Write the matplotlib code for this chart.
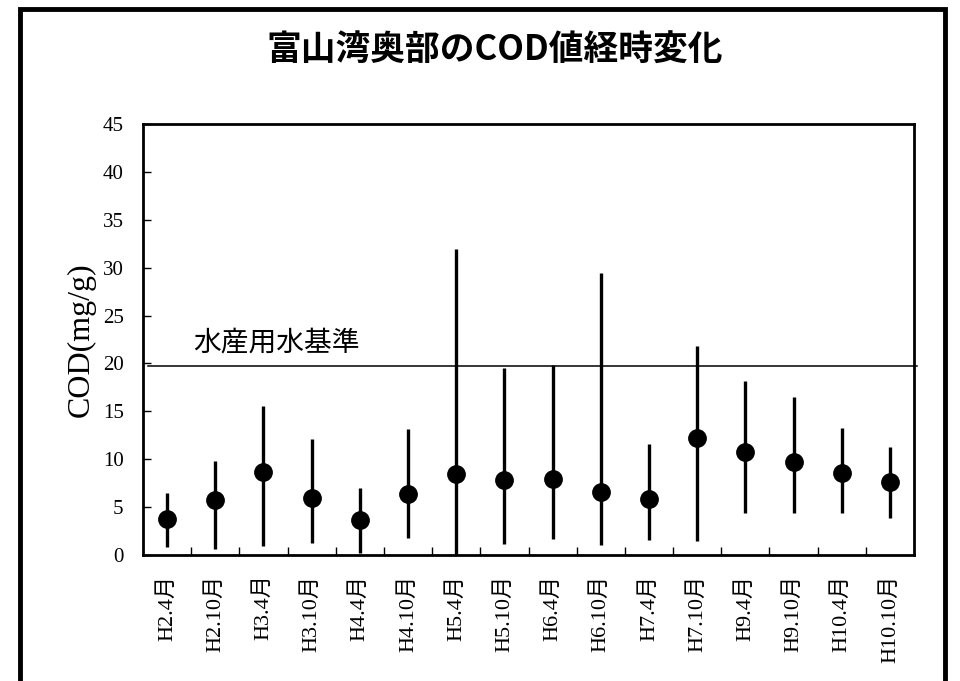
import matplotlib
matplotlib.use("Agg")
import matplotlib.pyplot as plt
from matplotlib.patches import Rectangle

# data
labels = ["H2.4月", "H2.10月", "H3.4月", "H3.10月", "H4.4月", "H4.10月", "H5.4月", "H5.10月",
          "H6.4月", "H6.10月", "H7.4月", "H7.10月", "H9.4月", "H9.10月", "H10.4月", "H10.10月"]
cod_mean = [3.8, 5.7, 8.7, 6.0, 3.7, 6.4, 8.5, 7.8, 7.9, 6.6, 5.8, 12.2, 10.8, 9.7, 8.6, 7.6]
cod_max = [6.5, 9.8, 15.6, 12.1, 7.0, 13.2, 31.9, 19.5, 19.8, 29.4, 11.6, 21.8, 18.2, 16.5, 13.3, 11.3]
cod_min = [0.8, 0.6, 0.9, 1.3, 0.2, 1.8, 0.0, 1.2, 1.7, 1.0, 1.6, 1.5, 4.4, 4.4, 4.4, 3.9]
standard = 19.7
standard_label = "水産用水基準"

serif = ["Liberation Serif", "Noto Sans CJK JP"]
gothic = ["Noto Sans CJK JP", "DejaVu Sans"]

fig = plt.figure(figsize=(9.6, 6.81), dpi=100)
ax = fig.add_axes([143/960, 1 - 555/681, 771/960, 431/681])

x = list(range(len(labels)))
lower = [m - lo for m, lo in zip(cod_mean, cod_min)]
upper = [hi - m for m, hi in zip(cod_mean, cod_max)]
ax.errorbar(x, cod_mean, yerr=[lower, upper], fmt="o", color="black",
            markersize=12.5, elinewidth=2.4, capsize=0, zorder=3)

# standard line
ax.plot([0.006, 1.004], [standard, standard], color="black", lw=1.1,
        transform=ax.get_yaxis_transform(), clip_on=False)
ax.text(-0.5 + 50/48.2, standard + 0.9, standard_label, fontsize=20,
        family=gothic, va="bottom", ha="left")

ax.set_xlim(-0.5, len(labels) - 0.5)
ax.set_ylim(0, 45)
ax.set_yticks(range(0, 50, 5))
ax.set_yticklabels([str(v) for v in range(0, 50, 5)], family=serif, fontsize=15)
ax.set_xticks(x)
ax.set_xticklabels(labels, rotation=90, family=serif, fontsize=16, va="top")
ax.set_xticks([i + 0.5 for i in x[:-1]], minor=True)
ax.tick_params(axis="x", which="major", length=0, pad=14)
ax.tick_params(axis="x", which="minor", direction="in", length=6, width=1)
ax.tick_params(axis="y", direction="in", length=6, width=1, pad=14)
for s in ax.spines.values():
    s.set_linewidth(2)

ax.set_ylabel("COD(mg/g)", family=serif, fontsize=23, labelpad=5)

fig.text(495/960, 1 - 50/681, "富山湾奥部のCOD値経時変化", family=gothic,
         fontsize=25, fontweight="bold", ha="center", va="center")

# outer frame
fig.add_artist(Rectangle((20/960, -0.05), 925/960, 1.05 - 9/681, transform=fig.transFigure,
                         fill=False, lw=3.5, edgecolor="black"))

fig.savefig("out.png", dpi=100)
